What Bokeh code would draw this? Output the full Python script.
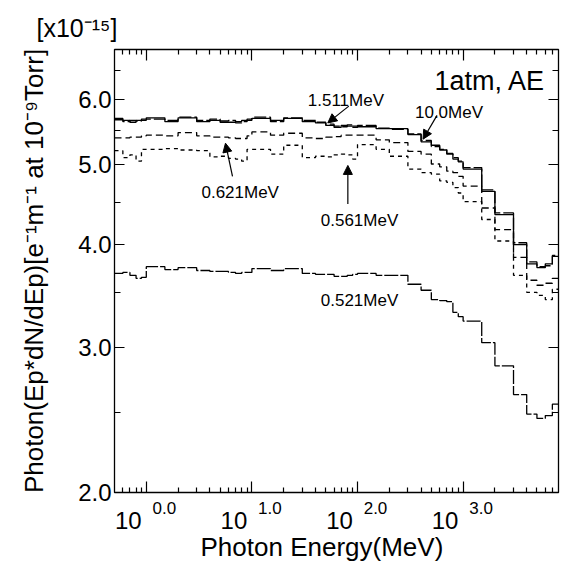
import math
from bokeh.plotting import figure
from bokeh.models import (LogAxis, FixedTicker, Label, Arrow, NormalHead, Range1d,
                          LogScale, Title, PrintfTickFormatter, CustomJSTickFormatter)
from bokeh.embed import file_html
from bokeh.resources import INLINE

# ---------------- data ----------------
bin_edges = [0.5, 0.6, 0.7, 0.8, 0.9,
             1, 1.5, 2, 3, 4, 5, 6, 7, 8, 9,
             10, 15, 20, 30, 40, 50, 60, 70, 80, 90,
             100, 150, 200, 300, 400, 500, 600, 700, 800, 900,
             1000, 1500, 2000, 3000, 4000, 5000, 6000, 7000, 8000]

y_1511 = [5.69, 5.66, 5.63, 5.66, 5.66,
          5.70, 5.64, 5.70, 5.64, 5.66, 5.63, 5.63, 5.64, 5.66, 5.66,
          5.69, 5.66, 5.69, 5.64, 5.62, 5.58, 5.55, 5.58, 5.57, 5.57,
          5.56, 5.53, 5.53, 5.44, 5.33, 5.28, 5.21, 5.15, 5.08, 5.04,
          4.94, 4.64, 4.35, 4.00, 3.79, 3.75, 3.79, 3.87]

y_100 = [5.67, 5.64, 5.66, 5.65, 5.68,
         5.68, 5.66, 5.71, 5.66, 5.68, 5.65, 5.66, 5.62, 5.64, 5.68,
         5.71, 5.64, 5.70, 5.66, 5.63, 5.60, 5.57, 5.56, 5.59, 5.55,
         5.58, 5.54, 5.52, 5.45, 5.35, 5.26, 5.22, 5.16, 5.10, 5.05,
         4.96, 4.66, 4.37, 4.02, 3.81, 3.76, 3.77, 3.88]

y_0621 = [5.39, 5.39, 5.40, 5.40, 5.42,
          5.43, 5.42, 5.47, 5.42, 5.40, 5.40, 5.39, 5.38, 5.38, 5.42,
          5.48, 5.43, 5.46, 5.39, 5.38, 5.40, 5.41, 5.43, 5.43, 5.43,
          5.43, 5.36, 5.32, 5.19, 5.15, 5.01, 4.97, 4.91, 4.89, 4.84,
          4.71, 4.43, 4.17, 3.86, 3.62, 3.57, 3.59, 3.64]

y_0561 = [5.20, 5.10, 5.14, 5.05, 5.22,
          5.22, 5.23, 5.21, 5.20, 5.11, 5.12, 5.09, 5.08, 5.05, 5.22,
          5.22, 5.15, 5.28, 5.10, 5.12, 5.11, 5.14, 5.15, 5.14, 5.08,
          5.29, 5.22, 5.12, 4.94, 4.89, 4.87, 4.78, 4.76, 4.69, 4.62,
          4.51, 4.29, 4.04, 3.67, 3.50, 3.47, 3.43, 3.53]

y_0521 = [3.69, 3.70, 3.67, 3.64, 3.65,
          3.76, 3.73, 3.75, 3.72, 3.71, 3.71, 3.70, 3.69, 3.70, 3.70,
          3.74, 3.72, 3.74, 3.69, 3.68, 3.68, 3.66, 3.66, 3.67, 3.68,
          3.69, 3.67, 3.67, 3.58, 3.52, 3.43, 3.42, 3.41, 3.31, 3.27,
          3.23, 3.04, 2.85, 2.63, 2.49, 2.46, 2.48, 2.56]

series_labels = ["1.511MeV", "10.0MeV", "0.621MeV", "0.561MeV", "0.521MeV"]

x_major = [1, 10, 100, 1000]
x_base_label = "10"
x_exp_labels = ["0.0", "1.0", "2.0", "3.0"]
y_major = [2.0, 3.0, 4.0, 5.0, 6.0]
y_minor = [2.5, 3.5, 4.5, 5.5, 6.5]

x_lo, x_hi = 0.5, 8000
y_lo, y_hi = 2.0, 6.9

FONT = "Liberation Sans"

# ---------------- figure ----------------
W, H = 564, 567
ML, MR, MT, MB = 114, 6, 49, 75
p = figure(width=W, height=H, x_axis_type="log", y_axis_type="log",
           x_range=Range1d(x_lo, x_hi), y_range=Range1d(y_lo, y_hi),
           output_backend="svg", toolbar_location=None,
           min_border_left=ML, min_border_right=MR, min_border_top=MT,
           min_border_bottom=MB)
p.xgrid.visible = False
p.ygrid.visible = False
p.outline_line_color = "black"
p.outline_line_width = 1.3
p.background_fill_color = "white"
p.border_fill_color = "white"

x_minor = [m * 10.0 ** k for k in range(-1, 4) for m in range(2, 10)
           if x_lo < m * 10.0 ** k < x_hi]
xticker = FixedTicker(ticks=x_major, minor_ticks=x_minor)
xlabticker = FixedTicker(ticks=x_major, minor_ticks=[])
yticker = FixedTicker(ticks=y_major, minor_ticks=y_minor)
blank = CustomJSTickFormatter(code="return ''")

def style_axis(ax, major_in, minor_in):
    ax.axis_line_color = None
    ax.major_tick_in = major_in
    ax.major_tick_out = 0
    ax.minor_tick_in = minor_in
    ax.minor_tick_out = 0
    ax.major_tick_line_color = "black"
    ax.minor_tick_line_color = "black"
    ax.major_tick_line_width = 1.2
    ax.minor_tick_line_width = 1.2

xa = p.xaxis[0]
xa.ticker = xticker
xa.formatter = blank
xa.major_label_standoff = 0
xa.major_label_text_font_size = "0px"
style_axis(xa, 11, 5)

ya = p.yaxis[0]
ya.ticker = yticker
ya.formatter = PrintfTickFormatter(format="%.1f")
ya.major_label_text_font = FONT
ya.major_label_text_font_size = "24px"
ya.major_label_text_color = "black"
ya.major_label_standoff = 3
ya.axis_label = "Photon(Ep*dN/dEp)[e\u207b\u00b9m\u207b\u00b9 at 10\u207b\u2079Torr]"
ya.axis_label_text_font = FONT
ya.axis_label_text_font_size = "26px"
ya.axis_label_text_font_style = "normal"
ya.axis_label_text_color = "black"
ya.axis_label_standoff = 26
style_axis(ya, 10, 6)

top = LogAxis(ticker=xticker, formatter=blank, major_label_standoff=0,
              major_label_text_font_size="0px")
style_axis(top, 11, 5)
p.add_layout(top, "above")
right = LogAxis(ticker=yticker, formatter=blank, major_label_standoff=0,
                major_label_text_font_size="0px")
style_axis(right, 10, 6)
p.add_layout(right, "right")

# x tick labels "10" with a raised exponent: two label-only axes whose ranges are
# shifted by a fixed number of pixels so the texts sit left/right of each tick
px_per_decade = (W - ML - MR) / math.log10(x_hi / x_lo)
shift = 10 ** (18 / px_per_decade)
p.extra_x_ranges = {"sup": Range1d(x_lo / shift, x_hi / shift),
                    "ten": Range1d(x_lo * shift, x_hi * shift)}
p.extra_x_scales = {"sup": LogScale(), "ten": LogScale()}

sup_fmt = CustomJSTickFormatter(args=dict(vals=x_major, labs=x_exp_labels),
                                code="const i = vals.indexOf(tick); return i >= 0 ? labs[i] : ''")
ten_fmt = CustomJSTickFormatter(args=dict(vals=x_major, lab=x_base_label),
                                code="return vals.indexOf(tick) >= 0 ? lab : ''")
sup_axis = LogAxis(x_range_name="sup", ticker=xlabticker, formatter=sup_fmt,
                   major_label_standoff=9, major_label_text_font=FONT,
                   major_label_text_font_size="17px", major_label_text_color="black")
style_axis(sup_axis, 0, 0)
p.add_layout(sup_axis, "below")
ten_axis = LogAxis(x_range_name="ten", ticker=xlabticker, formatter=ten_fmt,
                   major_label_standoff=-5, major_label_text_font=FONT,
                   major_label_text_font_size="24px", major_label_text_color="black")
style_axis(ten_axis, 0, 0)
p.add_layout(ten_axis, "below")

# x axis title
p.add_layout(Title(text="Photon Energy(MeV)", align="left", offset=86, standoff=-3,
                   text_font=FONT, text_font_size="26px", text_font_style="normal",
                   text_color="black"), "below")

# scale factor at top-left
p.title.text = "[x10\u207b\u00b9\u2075]"
p.title.align = "left"
p.title.offset = -78
p.title.standoff = 16
p.title.text_font = FONT
p.title.text_font_size = "25px"
p.title.text_font_style = "normal"
p.title.text_color = "black"

# ---------------- curves ----------------
styles = [("solid", y_1511), ("12 3", y_100), ("7 4", y_0621),
          ("4 4", y_0561), ("14 2", y_0521)]
for dash, ys in styles:
    p.step(x=bin_edges, y=ys + [ys[-1]], mode="after", line_color="black",
           line_width=1.3, line_dash=dash)

# panel tag
p.add_layout(Label(x=x_hi, y=y_hi, text="1atm, AE", text_align="right",
                   text_baseline="alphabetic", x_offset=-13, y_offset=-31,
                   text_font=FONT, text_font_size="27px", text_color="black"))

# curve annotations: (text, text x, text y, arrow tail, arrow tip)
notes = [
    (series_labels[0], 33.8, 5.99, (82.7, 5.89), (52.3, 5.62)),
    (series_labels[1], 350, 5.78, (566, 5.74), (417, 5.37)),
    (series_labels[2], 3.33, 4.62, (6.55, 4.84), (5.62, 5.31)),
    (series_labels[3], 44.9, 4.28, (81, 4.48), (81, 4.99)),
    (series_labels[4], 44.9, 3.42, None, None),
]
for txt, tx, ty, tail, tip in notes:
    p.add_layout(Label(x=tx, y=ty, text=txt, text_align="left",
                       text_baseline="alphabetic", text_font=FONT,
                       text_font_size="17px", text_color="black"))
    if tail is not None:
        p.add_layout(Arrow(end=NormalHead(size=9, fill_color="black",
                                          line_color="black", line_width=1),
                           x_start=tail[0], y_start=tail[1],
                           x_end=tip[0], y_end=tip[1],
                           line_color="black", line_width=1.2))

open("out.html", "w").write(file_html(p, INLINE))
